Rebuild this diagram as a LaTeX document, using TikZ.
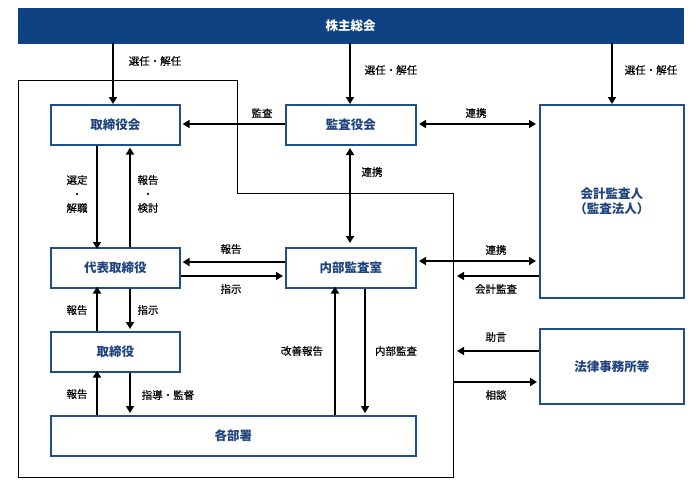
\documentclass[tikz,border=0pt]{standalone}
\usepackage{fontspec}
\setmainfont{Noto Sans CJK JP}
\newfontfamily\jplbl{Noto Sans CJK JP}[FakeBold=0.4]
\usetikzlibrary{arrows.meta}
\definecolor{barblue}{HTML}{0F4282}
\definecolor{boxblue}{HTML}{1E4E8C}
\definecolor{txtblue}{HTML}{1F437E}
\tikzset{
  orgbox/.style={draw=boxblue, line width=1.6pt, fill=white, text=txtblue, font=\fontsize{12.5}{15}\selectfont\bfseries, align=center},
  arr/.style={line width=2.6pt, -{Triangle[length=7pt,width=8pt]}},
  darr/.style={line width=2.6pt, {Triangle[length=7pt,width=8pt]}-{Triangle[length=7pt,width=8pt]}},
  lbl/.style={font=\jplbl\fontsize{10.5}{14}\selectfont, text=black, inner sep=0pt, align=center},
}
\begin{document}
\begin{tikzpicture}[x=1pt,y=-1pt]
\useasboundingbox (0,0) rectangle (700,485);
% outer frame
\draw[line width=0.9pt] (18,80) -- (237,80) -- (237,193) -- (453,193) -- (453,477) -- (18,477) -- cycle;
% top bar
\node[fill=barblue, draw=barblue, minimum width=665pt, minimum height=35pt, anchor=north west, text=white, font=\fontsize{12.5}{15}\selectfont\bfseries, inner sep=0pt] (gm) at (18,8) {株主総会};
% boxes
\node[orgbox, minimum width=129pt, minimum height=40pt, anchor=north west, inner sep=0pt] (bod) at (50,104) {取締役会};
\node[orgbox, minimum width=130pt, minimum height=40pt, anchor=north west, inner sep=0pt] (kan) at (285,104) {監査役会};
\node[orgbox, minimum width=129pt, minimum height=40pt, anchor=north west, inner sep=0pt] (ceo) at (50,247) {代表取締役};
\node[orgbox, minimum width=130pt, minimum height=40pt, anchor=north west, inner sep=0pt] (ia) at (285,247) {内部監査室};
\node[orgbox, minimum width=129pt, minimum height=40pt, anchor=north west, inner sep=0pt] (dir) at (50,331) {取締役};
\node[orgbox, minimum width=365pt, minimum height=40pt, anchor=north west, inner sep=0pt] (dept) at (50,415) {各部署};
\node[orgbox, minimum width=144pt, minimum height=193pt, anchor=north west, inner sep=0pt] (aud) at (539,104) {会計監査人\\（監査法人）};
\node[orgbox, minimum width=144pt, minimum height=75pt, anchor=north west, inner sep=0pt] (law) at (539,328) {法律事務所等};
% free-end coordinates
\coordinate (fr1) at (457,276);
\coordinate (fr2) at (457,351);
\coordinate (fr3) at (453,382);
% from general meeting
\draw[arr] (gm.south -| 113,0) -- (bod.north -| 113,0);
\draw[arr] (gm.south -| 350,0) -- (kan.north -| 350,0);
\draw[arr] (gm.south -| 612,0) -- (aud.north -| 612,0);
\node[lbl] (l1) at (155,61) {選任・解任};
\node[lbl] (l2) at (391,70) {選任・解任};
\node[lbl] (l3) at (651,70) {選任・解任};
% kansayakukai -> board
\draw[arr] (kan.west |- 0,124) -- ([xshift=2pt]bod.east |- 0,124);
\node[lbl] (l4) at (262,113) {監査};
% kansayakukai <-> auditor
\draw[darr] (419,124) -- (536,124);
\node[lbl] (l5) at (476,113) {連携};
% board <-> ceo
\draw[arr] (bod.south -| 97,0) -- ([yshift=-2pt]ceo.north -| 97,0);
\draw[arr] (ceo.north -| 130,0) -- ([yshift=-2pt]bod.south -| 130,0);
\node[lbl] (l6) at (77,194) {選定\\・\\解職};
\node[lbl] (l7) at (148,194) {報告\\・\\検討};
% kansayakukai <-> internal audit
\draw[darr] (350,148) -- (350,243);
\node[lbl] (l8) at (372,172) {連携};
% internal audit <-> ceo
\draw[arr] (ia.west |- 0,262) -- ([xshift=2pt]ceo.east |- 0,262);
\draw[arr] (ceo.east |- 0,276) -- ([xshift=-2pt]ia.west |- 0,276);
\node[lbl] (l9) at (231,249) {報告};
\node[lbl] (l10) at (231,289) {指示};
% internal audit <-> auditor
\draw[darr] (419,261) -- (536,261);
\node[lbl] (l11) at (496,250) {連携};
\draw[arr] (aud.west |- 0,276) -- (fr1);
\node[lbl] (l12) at (496,289) {会計監査};
% ceo <-> director
\draw[arr] (dir.north -| 97,0) -- ([yshift=2pt]ceo.south -| 97,0);
\draw[arr] (ceo.south -| 130,0) -- ([yshift=2pt]dir.north -| 130,0);
\node[lbl] (l13) at (77,310) {報告};
\node[lbl] (l14) at (148,310) {指示};
% director <-> departments
\draw[arr] (dept.north -| 97,0) -- ([yshift=2pt]dir.south -| 97,0);
\draw[arr] (dir.south -| 130,0) -- ([yshift=2pt]dept.north -| 130,0);
\node[lbl] (l15) at (77,394) {報告};
\node[lbl] (l16) at (168,395) {指導・監督};
% departments <-> internal audit
\draw[arr] (dept.north -| 335,0) -- ([yshift=2pt]ia.south -| 335,0);
\draw[arr] (ia.south -| 365,0) -- ([yshift=2pt]dept.north -| 365,0);
\node[lbl] (l17) at (302,351) {改善報告};
\node[lbl] (l18) at (396,351) {内部監査};
% law firm
\draw[arr] (law.west |- 0,351) -- (fr2);
\draw[arr] (fr3) -- ([xshift=-2pt]law.west |- 0,382);
\node[lbl] (l19) at (496,337) {助言};
\node[lbl] (l20) at (496,395) {相談};
\end{tikzpicture}
\end{document}
